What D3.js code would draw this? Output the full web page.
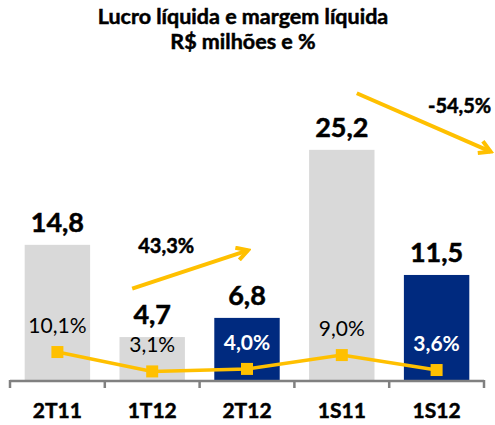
<!DOCTYPE html>
<html>
<head>
<meta charset="utf-8">
<script src="https://cdn.jsdelivr.net/npm/d3@7"></script>
<style>
  body { margin: 0; background: #fff; }
  svg { display: block; font-family: Lato, "Open Sans", sans-serif; }
  .heavy { font-weight: bold; stroke: #000; stroke-width: 0.5px; }
</style>
</head>
<body>
<div id="chart"></div>
<script>
var categories = ['2T11', '1T12', '2T12', '1S11', '1S12']
var lucro = [14.8, 4.7, 6.8, 25.2, 11.5]
var margem = [10.1, 3.1, 4.0, 9.0, 3.6]
var highlighted = [false, false, true, false, true]
var lucroLabels = ['14,8', '4,7', '6,8', '25,2', '11,5']
var margemLabels = ['10,1%', '3,1%', '4,0%', '9,0%', '3,6%']
var titleLines = ['Lucro líquida e margem líquida', 'R$ milhões e %']

// variation arrows: from / to given as [category, x offset, value]
var variations = [
  { text: '43,3%', from: ['1T12', -20, 10.0], to: ['2T12', 1, 14.2], label: ['1T12', 14, 253] },
  { text: '-54,5%', from: ['1S11', 15, 31.4], to: ['1S12', 54, 25.0], label: ['1S12', 23, 113] }
]

var width = 495, height = 425
var GRAY = '#d9d9d9', NAVY = '#002a7f', GOLD = '#ffc000'

var svg = d3.select('#chart').append('svg')
  .attr('width', width)
  .attr('height', height)

var x = d3.scaleBand()
  .domain(categories)
  .range([10, 484])
  .paddingInner(0.31)
  .paddingOuter(0.155)

var y = d3.scaleLinear().domain([0, 30]).range([380, 106])
var y2 = d3.scaleLinear().domain([0, 100]).range([380, 103])

var cx = function (c) { return x(c) + x.bandwidth() / 2 }

// title, one text per line
svg.selectAll('text.title')
  .data(titleLines)
  .join('text')
  .attr('class', 'title heavy')
  .attr('text-anchor', 'middle')
  .style('font-size', '21.5px')
  .attr('x', 243)
  .attr('y', function (d, i) { return 24 + i * 25 })
  .text(function (d) { return d })

// bars
svg.selectAll('rect.bar')
  .data(categories)
  .join('rect')
  .attr('class', 'bar')
  .attr('x', function (d) { return x(d) })
  .attr('width', x.bandwidth())
  .attr('y', function (d, i) { return y(lucro[i]) })
  .attr('height', function (d, i) { return y(0) - y(lucro[i]) })
  .attr('fill', function (d, i) { return highlighted[i] ? NAVY : GRAY })

// bar value labels
svg.selectAll('text.val')
  .data(categories)
  .join('text')
  .attr('class', 'val heavy')
  .attr('x', cx)
  .attr('y', function (d, i) { return y(lucro[i]) - 13 })
  .attr('text-anchor', 'middle')
  .style('font-size', '27px')
  .text(function (d, i) { return lucroLabels[i] })

// axis
var step = x.step()
var axis = svg.append('g')
axis.append('line')
  .attr('x1', x.range()[0]).attr('x2', x.range()[1])
  .attr('y1', y(0) + 1).attr('y2', y(0) + 1)
  .attr('stroke', '#808080').attr('stroke-width', 2.5)
var boundaries = categories.map(function (c) { return x(c) - x.paddingInner() * step / 2 - (c === categories[0] ? (x.paddingOuter() - x.paddingInner() / 2) * step : 0) })
boundaries.push(x.range()[1])
axis.selectAll('line.tick')
  .data(boundaries)
  .join('line')
  .attr('class', 'tick')
  .attr('x1', function (d) { return d }).attr('x2', function (d) { return d })
  .attr('y1', y(0)).attr('y2', y(0) + 8)
  .attr('stroke', '#808080').attr('stroke-width', 2.5)

axis.selectAll('text.cat')
  .data(categories)
  .join('text')
  .attr('class', 'cat heavy')
  .attr('x', cx)
  .attr('y', 418)
  .attr('text-anchor', 'middle')
  .style('font-size', '21px')
  .text(function (d) { return d })

// margin line
var line = d3.line()
  .x(function (d, i) { return cx(categories[i]) })
  .y(function (d) { return y2(d) })

svg.append('path')
  .datum(margem)
  .attr('d', line)
  .attr('fill', 'none')
  .attr('stroke', GOLD)
  .attr('stroke-width', 3.5)

svg.selectAll('rect.mark')
  .data(margem)
  .join('rect')
  .attr('class', 'mark')
  .attr('x', function (d, i) { return cx(categories[i]) - 6 })
  .attr('y', function (d) { return y2(d) - 6 })
  .attr('width', 12)
  .attr('height', 12)
  .attr('fill', GOLD)

svg.selectAll('text.pct')
  .data(margem)
  .join('text')
  .attr('class', 'pct')
  .attr('x', function (d, i) { return cx(categories[i]) })
  .attr('y', function (d) { return y2(d) - 19 })
  .attr('text-anchor', 'middle')
  .style('font-size', '21px')
  .style('font-weight', function (d, i) { return highlighted[i] ? 'bold' : 'normal' })
  .attr('fill', function (d, i) { return highlighted[i] ? '#fff' : '#000' })
  .text(function (d, i) { return margemLabels[i] })

// variation arrows
var defs = svg.append('defs')
defs.append('marker')
  .attr('id', 'head')
  .attr('viewBox', '0 0 10 10')
  .attr('refX', 8).attr('refY', 5)
  .attr('markerWidth', 4).attr('markerHeight', 4)
  .attr('orient', 'auto')
  .append('path')
  .attr('d', 'M1,1 L8,5 L1,9')
  .attr('fill', 'none')
  .attr('stroke', GOLD)
  .attr('stroke-width', 2.5)

variations.forEach(function (v) {
  svg.append('line')
    .attr('x1', cx(v.from[0]) + v.from[1]).attr('y1', y(v.from[2]))
    .attr('x2', cx(v.to[0]) + v.to[1]).attr('y2', y(v.to[2]))
    .attr('stroke', GOLD)
    .attr('stroke-width', 4)
    .attr('marker-end', 'url(#head)')
  svg.append('text')
    .attr('class', 'heavy')
    .attr('x', cx(v.label[0]) + v.label[1])
    .attr('y', v.label[2])
    .attr('text-anchor', 'middle')
    .style('font-size', '20px')
    .text(v.text)
})
</script>
</body>
</html>
